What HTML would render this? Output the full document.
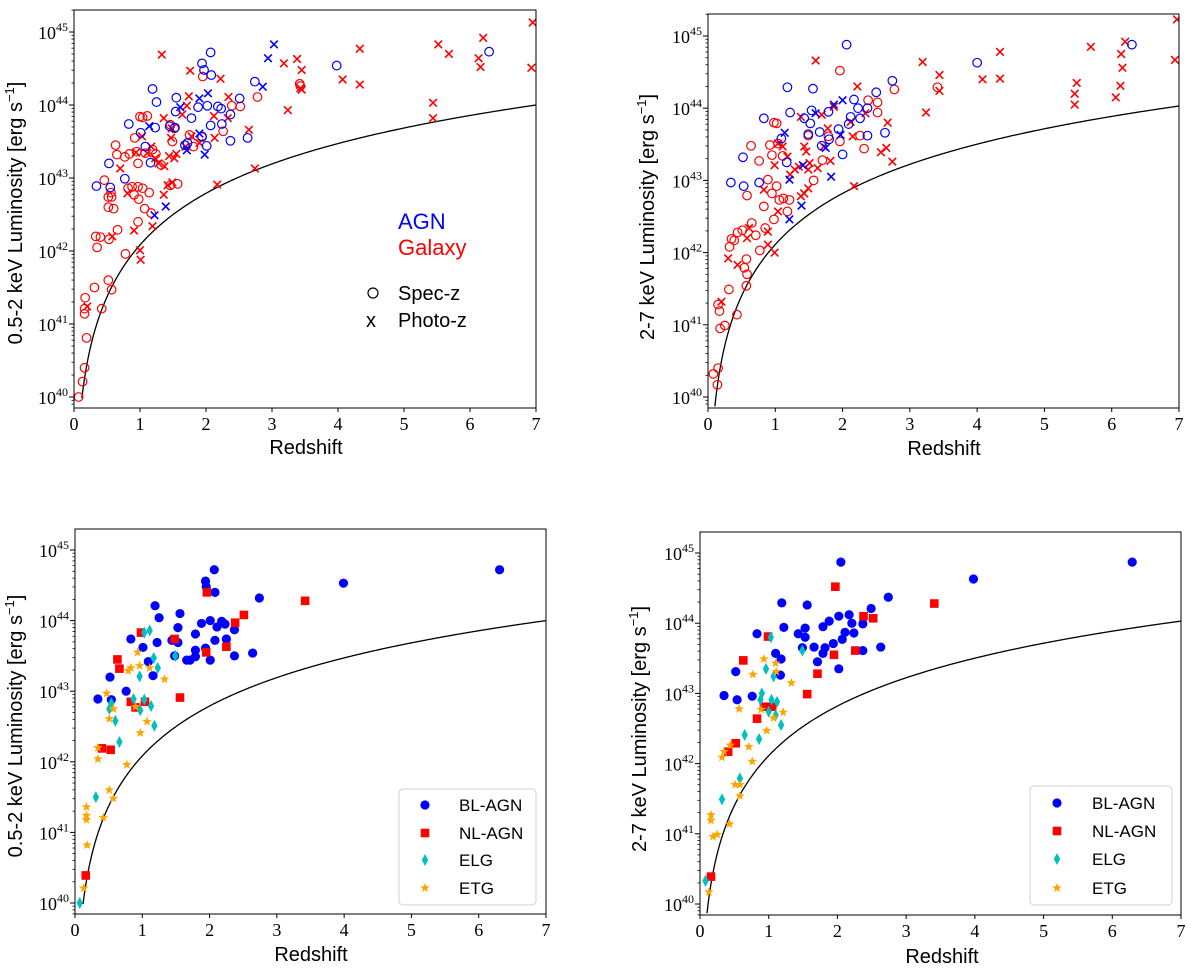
<!DOCTYPE html>
<html><head><meta charset="utf-8">
<style>
html,body{margin:0;padding:0;background:#fff;}
svg{display:block;font-family:"Liberation Sans",sans-serif;}
</style></head>
<body>
<svg id="fig" width="1200" height="970" viewBox="0 0 1200 970" xmlns="http://www.w3.org/2000/svg"></svg>
<script>
// ===== Panel 1 (0.5-2 keV, AGN/Galaxy, spec/photo) =====
const p1AgnSpecZ=[0.34,0.53,0.55,0.77,0.83,1.01,1.08,1.19,1.25,1.23,1.16,1.55,1.54,1.53,1.45,1.78,1.68,1.88,1.94,1.97,2.07,2.08,2.02,2.01,2.07,2.18,2.23,2.24,2.37,2.37,2.51,2.63,2.74,3.98,6.29,1.94,1.72];
const p1AgnSpecL=[42.89,43.20,42.87,42.99,43.74,43.62,43.43,44.22,44.04,43.69,43.21,44.10,43.91,43.69,43.71,43.82,43.45,43.97,44.57,44.48,44.72,44.41,43.99,43.44,43.72,43.98,43.95,43.74,43.87,43.51,44.09,43.55,44.32,44.54,44.73,43.57,43.48];
const p1AgnPhotZ=[1.14,1.22,1.39,1.61,1.71,1.90,1.90,1.98,2.03,2.94,2.86,3.03];
const p1AgnPhotL=[43.71,42.49,42.61,43.97,43.38,44.09,43.61,43.32,44.16,44.64,44.25,44.83];
const p1GalSpecZ=[0.07,0.13,0.16,0.19,0.17,0.16,0.16,0.31,0.42,0.52,0.57,0.33,0.40,0.35,0.53,0.66,0.78,0.46,0.52,0.56,0.57,0.52,0.60,0.63,0.65,0.77,0.84,0.82,0.88,0.91,0.97,0.98,1.04,1.14,1.07,1.17,0.97,0.92,0.95,0.97,1.00,1.04,1.11,1.08,1.19,1.24,1.32,1.46,1.49,1.52,1.57,1.46,1.75,1.81,1.95,1.94,2.26,2.39,2.52,2.78,3.42,3.43];
const p1GalSpecL=[40.0,40.21,40.40,40.81,41.36,41.21,41.14,41.50,41.21,41.60,41.47,42.20,42.19,42.05,42.16,42.29,41.96,42.97,42.74,42.80,42.74,42.60,42.58,43.45,43.32,43.29,43.33,42.86,42.88,42.77,42.88,42.71,42.86,42.80,42.58,42.52,42.40,43.55,43.36,43.20,43.84,43.83,43.85,43.34,43.39,43.33,43.18,43.73,43.50,43.68,42.92,42.90,43.59,43.43,44.39,43.56,43.64,43.99,43.98,44.11,44.29,44.26];
const p1GalPhotZ=[0.20,0.58,0.70,0.81,0.91,0.94,1.00,1.01,1.03,1.11,1.17,1.19,1.23,1.28,1.33,1.36,1.37,1.36,1.42,1.44,1.47,1.48,1.49,1.52,1.55,1.64,1.71,1.74,1.76,1.69,1.78,1.90,2.12,2.13,2.17,2.22,2.34,2.33,2.65,2.74,3.18,3.24,3.38,3.45,3.43,3.45,4.07,4.33,4.33,5.44,5.44,5.52,5.68,6.13,6.16,6.20,6.93,6.95];
const p1GalPhotL=[41.24,42.20,43.13,42.79,42.28,43.35,42.01,41.88,43.57,43.34,43.43,42.34,43.27,43.20,44.69,43.82,43.16,42.77,42.90,43.30,43.55,43.68,42.94,43.27,43.33,43.87,43.99,44.12,44.47,43.43,43.57,43.48,43.85,43.55,42.91,44.36,44.11,43.82,43.66,43.13,44.57,43.93,44.63,44.48,44.23,44.21,44.35,44.77,44.28,44.03,43.82,44.83,44.70,44.64,44.52,44.92,44.51,45.13];

// ===== Panel 2 (2-7 keV) =====
const p2AgnSpecZ=[0.34,0.52,0.53,0.76,0.83,1.09,1.18,1.22,1.17,1.43,1.54,1.56,1.52,1.49,1.66,1.79,1.80,1.94,2.00,2.06,2.09,2.12,2.17,2.23,2.26,2.37,2.37,2.50,2.63,2.74,4.00,6.30,1.69];
const p2AgnSpecL=[42.97,43.32,42.92,42.97,43.86,43.58,44.29,43.94,43.25,43.86,43.97,44.27,43.79,43.64,43.67,43.95,43.57,43.71,43.36,44.88,43.78,43.88,44.12,44.00,43.86,43.62,44.00,44.22,43.66,44.38,44.63,44.88,43.48];
const p2AgnPhotZ=[1.14,1.21,1.21,1.39,1.41,1.60,1.75,1.83,1.87,1.97,2.00];
const p2AgnPhotL=[43.66,43.01,42.46,42.65,43.21,43.93,43.45,43.05,44.05,43.63,44.11];
const p2GalSpecZ=[0.08,0.14,0.15,0.15,0.17,0.18,0.25,0.31,0.43,0.32,0.35,0.39,0.44,0.51,0.54,0.57,0.57,0.58,0.65,0.71,0.58,0.64,0.76,0.83,0.77,0.85,0.89,0.92,0.95,0.98,1.02,0.98,1.02,0.95,1.06,1.12,1.18,1.21,1.11,1.04,1.49,1.57,1.70,1.79,1.96,1.96,2.26,2.32,2.38,2.52,2.52,2.77,3.41];
const p2GalSpecL=[40.32,40.17,40.40,41.28,41.19,40.95,40.99,41.49,41.14,42.08,42.19,42.17,42.28,42.31,41.79,41.91,41.54,41.70,42.41,42.24,42.79,43.48,43.27,42.64,42.03,42.34,43.01,43.49,43.35,43.80,43.79,42.46,42.92,42.82,42.73,42.75,42.57,42.73,43.34,43.51,43.62,43.00,43.28,43.61,44.52,43.54,43.62,43.44,44.11,44.08,43.94,44.26,44.29];
const p2GalPhotZ=[0.20,0.30,0.44,0.58,0.61,0.83,0.89,0.89,0.99,0.99,1.04,1.04,1.11,1.18,1.22,1.29,1.35,1.38,1.38,1.43,1.43,1.46,1.49,1.49,1.51,1.60,1.63,1.69,1.72,1.78,1.82,1.87,2.15,2.12,2.17,2.22,2.34,2.57,2.65,2.67,2.74,3.19,3.24,3.44,3.44,4.08,4.34,4.34,5.45,5.45,5.48,5.69,6.06,6.13,6.14,6.16,6.20,6.94,6.97];
const p2GalPhotL=[41.32,41.92,41.83,42.20,42.34,42.87,42.11,42.29,42.00,43.21,43.51,42.57,43.47,43.33,43.08,43.15,43.19,43.88,42.78,43.47,42.82,43.40,43.15,42.89,43.24,44.66,43.17,43.91,43.47,43.72,43.27,44.02,43.61,43.81,42.92,44.30,43.93,43.39,43.45,43.80,43.26,44.64,43.94,44.46,44.24,44.40,44.78,44.41,44.20,44.05,44.35,44.85,44.15,44.31,44.75,44.56,44.92,44.67,45.23];

// ===== Panel 3 (0.5-2 keV, by class) =====
const p3BlZ=[0.34,0.52,0.54,0.76,0.83,1.01,1.09,1.19,1.25,1.22,1.16,1.44,1.56,1.53,1.53,1.48,1.66,1.71,1.79,1.79,1.79,1.88,1.94,1.95,2.07,2.08,2.01,1.94,2.01,2.08,2.11,2.18,2.23,2.25,2.37,2.37,2.74,2.64,3.99,6.31];
const p3BlL=[42.89,43.20,42.88,43.00,43.74,43.62,43.42,44.21,44.04,43.69,43.22,43.72,44.10,43.90,43.69,43.50,43.44,43.44,43.81,43.58,43.49,43.96,44.56,44.48,44.72,44.40,44.00,43.61,43.44,43.72,43.91,43.99,43.95,43.74,43.87,43.50,44.32,43.54,44.53,44.72];
const p3NlZ=[0.16,0.40,0.53,0.63,0.66,0.98,0.83,0.90,1.04,1.48,1.56,1.96,1.95,2.25,2.38,2.51,3.42];
const p3NlL=[40.39,42.19,42.17,43.45,43.32,43.83,42.85,42.77,42.85,43.74,42.91,44.40,43.55,43.63,43.97,44.08,44.28];
const p3ElgZ=[0.07,0.31,0.51,0.54,0.60,0.66,0.87,0.96,0.97,1.03,1.11,1.03,1.13,1.17,1.23,1.18,1.49];
const p3ElgL=[40.00,41.50,42.75,42.83,42.58,42.28,42.89,43.21,42.73,43.83,43.86,42.88,42.79,43.47,43.33,42.51,43.50];
const p3EtgZ=[0.13,0.18,0.17,0.17,0.17,0.42,0.51,0.57,0.34,0.34,0.47,0.51,0.57,0.77,0.79,0.83,0.90,0.93,0.96,0.97,1.07,1.11,1.33];
const p3EtgL=[40.21,40.82,41.18,41.24,41.36,41.21,41.60,41.48,42.04,42.20,42.97,42.61,42.75,41.96,43.29,43.33,42.78,43.55,43.36,42.41,42.57,43.33,43.17];

// ===== Panel 4 (2-7 keV, by class) =====
const p4BlZ=[0.35,0.52,0.54,0.76,0.83,1.10,1.17,1.18,1.19,1.22,1.43,1.49,1.53,1.53,1.56,1.66,1.71,1.79,1.79,1.82,1.88,1.94,2.02,2.02,2.05,2.07,2.11,2.17,2.21,2.24,2.37,2.37,2.49,2.63,2.74,3.98,6.29];
const p4BlL=[42.97,43.31,42.91,42.96,43.85,43.57,43.26,43.49,44.29,43.94,43.85,43.65,43.93,43.80,44.26,43.66,43.45,43.95,43.57,43.65,44.03,43.71,44.10,43.35,44.87,43.77,43.87,44.12,44.00,43.86,43.99,43.61,44.21,43.66,44.37,44.63,44.87];
const p4NlZ=[0.16,0.41,0.52,0.63,0.83,0.93,1.05,0.99,1.56,1.71,1.95,1.97,2.26,2.38,2.52,3.41];
const p4NlL=[40.39,42.17,42.29,43.47,42.64,42.81,42.81,43.81,42.99,43.28,43.55,44.52,43.61,44.10,44.07,44.28];
const p4ElgZ=[0.08,0.32,0.58,0.65,0.86,0.90,0.88,0.96,1.03,1.04,1.07,1.12,1.00,1.10,1.18,1.49];
const p4ElgL=[40.33,41.49,41.79,42.41,42.35,43.00,42.91,43.35,43.80,42.91,43.24,42.88,42.74,42.69,42.55,43.61];
const p4EtgZ=[0.13,0.16,0.16,0.19,0.25,0.43,0.51,0.58,0.58,0.32,0.35,0.44,0.57,0.71,0.76,0.77,0.89,0.93,0.97,1.07,1.10,1.11,1.21,1.33];
const p4EtgL=[40.17,41.27,41.19,40.96,40.99,41.14,41.70,41.70,41.54,42.09,42.17,42.26,42.78,42.24,42.03,43.27,42.77,43.49,42.47,42.65,43.43,43.31,42.73,43.15];

const xTicks=[0,1,2,3,4,5,6,7];
const yTickExps=[40,41,42,43,44,45];

const NS='http://www.w3.org/2000/svg';
const svg=document.getElementById('fig');
function mk(tag,attrs,parent){const e=document.createElementNS(NS,tag);for(const k in attrs)e.setAttribute(k,attrs[k]);(parent||svg).appendChild(e);return e;}

// luminosity distance (flat LCDM) for flux-limit curve
function dL(z){const Om=0.3;let n=400,s=0;for(let i=0;i<n;i++){const zz=(i+0.5)*z/n;s+=1/Math.sqrt(Om*Math.pow(1+zz,3)+1-Om);}return (1+z)*s*z/n;}
function limL(z){return 2*Math.log10(dL(z))-0.2*Math.log10(1+z);}

function panel(cfg){
  const g=mk('g',{});
  
  
  const ppd=(cfg.y40-cfg.y45)/5;
  const sx=z=>cfg.x0+z*(cfg.x1-cfg.x0)/7;
  const sy=l=>cfg.y45+(45-l)*ppd;
  const lmin=40-(cfg.yb-cfg.y40)/ppd, lmax=45+(cfg.y45-cfg.yt)/ppd;
  // curve
  const ref=limL(7);let d='';
  for(let i=0;i<=400;i++){const z=0.05+i*(6.95/400);const l=cfg.lim7+limL(z)-ref;if(l<lmin)continue;d+=(d?'L':'M')+sx(z).toFixed(2)+','+sy(l).toFixed(2);}
  const cp=mk('clipPath',{id:'clip'+cfg.id},g);mk('rect',{x:cfg.x0,y:cfg.yt,width:cfg.x1-cfg.x0,height:cfg.yb-cfg.yt},cp);
  const c=mk('path',{d:d,fill:'none',stroke:'#000','stroke-width':1.3,'clip-path':'url(#clip'+cfg.id+')'},g);
  
  
  const mg=mk('g',{'clip-path':'url(#clip'+cfg.id+')'},g);
  cfg.series.forEach(s=>{
    for(let i=0;i<s.z.length;i++){
      const x=sx(s.z[i]),y=sy(s.l[i]);
      const m=marker(s.type,x,y,mg);
      
      
    }
  });
  // frame
  const f=mk('rect',{x:cfg.x0,y:cfg.yt,width:cfg.x1-cfg.x0,height:cfg.yb-cfg.yt,fill:'none',stroke:'#000','stroke-width':1},g);
  
  
  // x ticks
  xTicks.forEach(t=>{const x=sx(t);mk('line',{x1:x,x2:x,y1:cfg.yb,y2:cfg.yb+4,stroke:'#000'},g);
    const tx=mk('text',{x:x,y:cfg.yb+22,'text-anchor':'middle','font-family':'Liberation Serif,serif','font-size':18},g);tx.textContent=t;
    
    });
  // y ticks
  yTickExps.forEach(e=>{const y=sy(e);mk('line',{x1:cfg.x0-5,x2:cfg.x0,y1:y,y2:y,stroke:'#000'},g);
    const tx=mk('text',{x:cfg.x0-6,y:y+7,'text-anchor':'end','font-family':'Liberation Serif,serif','font-size':18},g);
    
    
    const a=mk('tspan',{},tx);a.textContent='10';const b=mk('tspan',{dy:-8,'font-size':12},tx);b.textContent=String(e);});
  for(let dcd=39;dcd<=45;dcd++)for(let k=2;k<=9;k++){const l=dcd+Math.log10(k);if(l<lmin||l>lmax)continue;const y=sy(l);mk('line',{x1:cfg.x0-2.5,x2:cfg.x0,y1:y,y2:y,stroke:'#000','stroke-width':0.8},g);}
  const xl=mk('text',{x:cfg.xlx,y:cfg.xly,'text-anchor':'middle','font-size':20},g);xl.textContent='Redshift';
  
  
  const yl=mk('text',{x:0,y:0,'text-anchor':'middle','font-size':20,transform:'translate('+cfg.ylx+','+cfg.yly+') rotate(-90)'},g);
  
  
  const t1=mk('tspan',{},yl);t1.textContent=cfg.ylabel+' Luminosity [erg s';
  const t2=mk('tspan',{dy:-8,'font-size':13},yl);t2.textContent='−1';
  const t3=mk('tspan',{dy:8},yl);t3.textContent=']';
  return g;
}
function star(x,y,R,r){let p='';for(let i=0;i<10;i++){const a=-Math.PI/2+i*Math.PI/5;const rr=i%2?r:R;p+=(x+rr*Math.cos(a)).toFixed(2)+','+(y+rr*Math.sin(a)).toFixed(2)+' ';}return p;}
function marker(type,x,y,p){
  if(type==='oB'||type==='oR')return mk('circle',{cx:x,cy:y,r:4.3,fill:'none',stroke:type==='oB'?'#0000ff':'#ff0000','stroke-width':1.2},p);
  if(type==='xB'||type==='xR'){const col=type==='xB'?'#0000ff':'#ff0000';return mk('path',{d:`M${x-3.8},${y-3.8}L${x+3.8},${y+3.8}M${x-3.8},${y+3.8}L${x+3.8},${y-3.8}`,stroke:col,'stroke-width':1.6,fill:'none'},p);}
  if(type==='bl')return mk('circle',{cx:x,cy:y,r:4.6,fill:'#0000ff'},p);
  if(type==='nl')return mk('rect',{x:x-4.3,y:y-4.3,width:8.6,height:8.6,fill:'#ff0000'},p);
  if(type==='elg')return mk('polygon',{points:`${x},${y-6} ${x+3.2},${y} ${x},${y+6} ${x-3.2},${y}`,fill:'#00bfbf'},p);
  return mk('polygon',{points:star(x,y,5,2.1),fill:'#ffa500'},p);
}

panel({id:1,name:'panel-soft-agn-galaxy',x0:74,x1:536,yt:10,yb:408,y45:32,y40:397,lim7:44.0,xlx:306,xly:454,ylx:22,yly:213,ylabel:'0.5-2 keV',
 series:[{z:p1GalSpecZ,l:p1GalSpecL,type:'oR',name:'galaxy-specz'},{z:p1GalPhotZ,l:p1GalPhotL,type:'xR',name:'galaxy-photoz'},{z:p1AgnSpecZ,l:p1AgnSpecL,type:'oB',name:'agn-specz'},{z:p1AgnPhotZ,l:p1AgnPhotL,type:'xB',name:'agn-photoz'}]});
panel({id:2,name:'panel-hard-agn-galaxy',x0:708,x1:1179,yt:14,yb:408,y45:36,y40:397,lim7:44.03,xlx:944,xly:455,ylx:654,yly:217,ylabel:'2-7 keV',
 series:[{z:p2GalSpecZ,l:p2GalSpecL,type:'oR',name:'galaxy-specz'},{z:p2GalPhotZ,l:p2GalPhotL,type:'xR',name:'galaxy-photoz'},{z:p2AgnSpecZ,l:p2AgnSpecL,type:'oB',name:'agn-specz'},{z:p2AgnPhotZ,l:p2AgnPhotL,type:'xB',name:'agn-photoz'}]});
panel({id:3,name:'panel-soft-classes',x0:75,x1:546,yt:529,yb:914,y45:550,y40:903,lim7:44.0,xlx:311,xly:961,ylx:22,yly:726,ylabel:'0.5-2 keV',
 series:[{z:p3BlZ,l:p3BlL,type:'bl',name:'bl-agn'},{z:p3NlZ,l:p3NlL,type:'nl',name:'nl-agn'},{z:p3ElgZ,l:p3ElgL,type:'elg',name:'elg'},{z:p3EtgZ,l:p3EtgL,type:'etg',name:'etg'}]});
panel({id:4,name:'panel-hard-classes',x0:700,x1:1181,yt:532,yb:915,y45:553,y40:904,lim7:44.03,xlx:942,xly:963,ylx:646,yly:729,ylabel:'2-7 keV',
 series:[{z:p4BlZ,l:p4BlL,type:'bl',name:'bl-agn'},{z:p4NlZ,l:p4NlL,type:'nl',name:'nl-agn'},{z:p4ElgZ,l:p4ElgL,type:'elg',name:'elg'},{z:p4EtgZ,l:p4EtgL,type:'etg',name:'etg'}]});

// Panel 1 annotations
function txt(x,y,s,col,size,name){const t=mk('text',{x:x,y:y,fill:col,'font-size':size});t.textContent=s;return t;}
txt(398,229,'AGN','#0000ff',22,'agn-label');
txt(398,255,'Galaxy','#ff0000',22,'galaxy-label');
let lm=marker('oR',373,293,svg);lm.setAttribute('stroke','#000');lm.setAttribute('r','5');


txt(398,300,'Spec-z','#000',20,'specz-legend-label');
lm=mk('text',{x:371,y:327,'text-anchor':'middle','font-size':20});lm.textContent='x';


txt(398,327,'Photo-z','#000',20,'photoz-legend-label');

// legends for panels 3 & 4
function legend(bx,by,bw,bh,mx,tx,ys,name){
  const g=mk('g',{});
  
  
  mk('rect',{x:bx,y:by,width:bw,height:bh,rx:4,fill:'#fff',stroke:'#d0d0d0','stroke-width':1},g);
  const types=['bl','nl','elg','etg'],labels=['BL-AGN','NL-AGN','ELG','ETG'];
  types.forEach((t,i)=>{const m=marker(t,mx,ys[i],g);
    const l=mk('text',{x:tx,y:ys[i]+6,'font-size':17},g);l.textContent=labels[i];
    
    });
}
legend(399,789,137,116,425,459,[805,833,860,888],'legend-soft');
legend(1030,786,142,119,1057,1092,[803,831,859,888],'legend-hard');
</script>
</body></html>
